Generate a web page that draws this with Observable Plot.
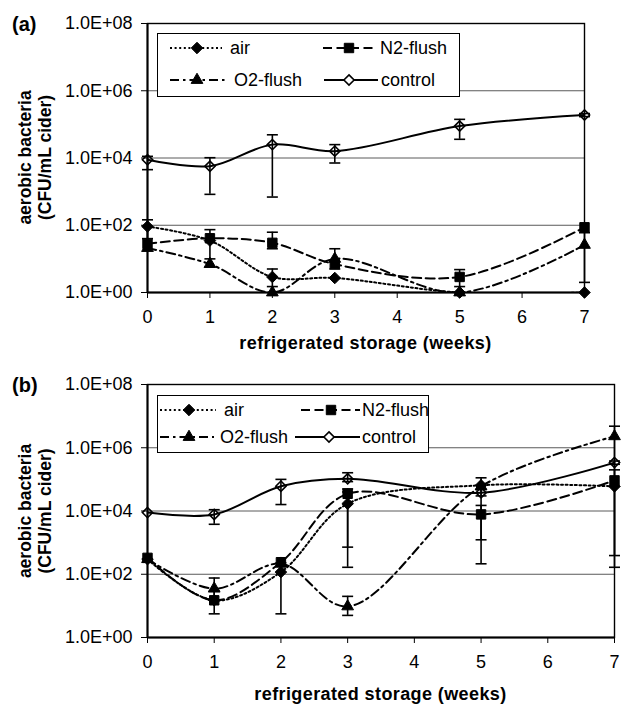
<!DOCTYPE html>
<html><head><meta charset="utf-8">
<script src="https://cdn.jsdelivr.net/npm/d3@7"></script>
<script src="https://cdn.jsdelivr.net/npm/@observablehq/plot@0.6"></script>
<style>
html,body{margin:0;padding:0;background:#fff;overflow:hidden;}
#root{position:relative;width:621px;height:704px;font-family:"Liberation Sans",Arial,sans-serif;}
#root svg{position:absolute;left:0;}
</style></head><body><div id="root"></div>
<script>
// ---------- data ----------
const weeks = [0, 1, 2, 3, 5, 7];
const seriesNames = ["air", "N2-flush", "O2-flush", "control"];
const xTicks = [0, 1, 2, 3, 4, 5, 6, 7];
const yTicks = [1, 1e2, 1e4, 1e6, 1e8];
const xTitle = "refrigerated storage (weeks)";
const yTitle1 = "aerobic bacteria";
const yTitle2 = "(CFU/mL cider)";
const panelLabels = ["(a)", "(b)"];

// panel (a)
const aAir       = [92, 35, 2.9, 2.7, 1, 1];
const aAirLo     = [40, null, 1.5, null, null, null];
const aAirHi     = [145, null, 5, null, null, null];
const aN2        = [28, 41, 30, 7, 2.9, 87];
const aN2Lo      = [null, 10, 20, null, 1.5, null];
const aN2Hi      = [null, 74, 62, null, 4.8, null];
const aO2        = [21, 7, 1, 10, 1, 26];
const aO2Lo      = [null, null, null, 5, null, 2];
const aO2Hi      = [null, null, null, 20, null, 60];
const aControl   = [8900, 5700, 25000, 16000, 89000, 190000];
const aControlLo = [4500, 830, 690, 7100, 36000, 170000];
const aControlHi = [11200, 10200, 49000, 25000, 141000, 210000];

// panel (b)
const bAir       = [300, 15, 117, 17000, 65000, 60000];
const bAirLo     = [null, null, 5.6, 166, null, null];
const bAirHi     = [null, null, 230, 40000, null, null];
const bN2        = [330, 15, 240, 35000, 7800, 93000];
const bN2Lo      = [null, 5.6, null, 720, 214, 390];
const bN2Hi      = [null, 30, null, 50000, 15000, 200000];
const bO2        = [300, 35, 215, 9.6, 60000, 2300000];
const bO2Lo      = [null, 15, null, 5, 1230, 166];
const bO2Hi      = [null, 76, null, 20, 112000, 4800000];
const bControl   = [8900, 7800, 61000, 105000, 38000, 340000];
const bControlLo = [null, 3800, 16000, 85000, 30000, 300000];
const bControlHi = [null, 11000, 100000, 162000, 48000, 380000];

// ---------- styles ----------
const FONT = "Liberation Sans, Arial, sans-serif";
const styles = {
  "air":      {dash: "2,2.6", symbol: "diamond2", fill: "black", r: 5.2},
  "N2-flush": {dash: "9,4.5", symbol: "square2",  fill: "black", r: 6},
  "O2-flush": {dash: "9,4,2.5,4", symbol: "triangle2", fill: "black", r: 5.6},
  "control":  {dash: null, symbol: "diamond2", fill: "none", r: 4.6}
};
const d3Sym = {diamond2: d3.symbolDiamond2, square2: d3.symbolSquare2, triangle2: d3.symbolTriangle2};
const cap = {draw(ctx) { ctx.moveTo(-5.5, 0); ctx.lineTo(5.5, 0); }};
const fmt = d => "1.0E+" + String(Math.round(Math.log10(d))).padStart(2, "0");

function buildRows(sets) {
  const rows = [];
  sets.forEach(([name, vals, lo, hi]) => {
    weeks.forEach((w, i) => rows.push({series: name, week: w, value: vals[i], lo: lo[i], hi: hi[i]}));
  });
  return rows;
}

const rowsA = buildRows([
  ["air", aAir, aAirLo, aAirHi],
  ["N2-flush", aN2, aN2Lo, aN2Hi],
  ["O2-flush", aO2, aO2Lo, aO2Hi],
  ["control", aControl, aControlLo, aControlHi]
]);
const rowsB = buildRows([
  ["air", bAir, bAirLo, bAirHi],
  ["N2-flush", bN2, bN2Lo, bN2Hi],
  ["O2-flush", bO2, bO2Lo, bO2Hi],
  ["control", bControl, bControlLo, bControlHi]
]);

function panel(rows, o) {
  const errs = rows.filter(d => d.lo != null && d.hi != null);
  const marks = [
    Plot.gridY(yTicks.slice(1, -1), {stroke: "#5a5a5a", strokeOpacity: 1, strokeWidth: 1}),
    Plot.axisY({ticks: yTicks, tickFormat: fmt, tickSize: 6, tickPadding: 9, label: null, fontSize: 18, stroke: "black"}),
    Plot.axisX({ticks: xTicks, tickFormat: d => String(d), tickSize: 6, tickPadding: 12, label: null, fontSize: 18})
  ];
  seriesNames.forEach(s => {
    const st = styles[s];
    marks.push(Plot.line(rows.filter(d => d.series === s), {
      x: "week", y: "value", curve: "catmull-rom", stroke: "black", strokeWidth: 2,
      strokeDasharray: st.dash, clip: true
    }));
  });
  marks.push(
    Plot.ruleX(errs, {x: "week", y1: "lo", y2: "hi", stroke: "black", strokeWidth: 1.6}),
    Plot.dot(errs, {x: "week", y: "lo", symbol: cap, stroke: "black", strokeWidth: 1.6}),
    Plot.dot(errs, {x: "week", y: "hi", symbol: cap, stroke: "black", strokeWidth: 1.6})
  );
  seriesNames.forEach(s => {
    const st = styles[s];
    marks.push(Plot.dot(rows.filter(d => d.series === s), {
      x: "week", y: "value", symbol: st.symbol, r: st.r,
      fill: st.fill, stroke: "black", strokeWidth: st.fill === "none" ? 1.6 : 1
    }));
  });
  marks.push(
    Plot.frame({stroke: "black", strokeWidth: 1.4}),
    Plot.ruleX([0], {stroke: "black", strokeWidth: 2}),
    Plot.ruleY([1], {stroke: "black", strokeWidth: 2})
  );
  const svg = Plot.plot({
    width: 621, height: o.height,
    marginTop: o.mt, marginBottom: o.mb, marginLeft: 147, marginRight: o.mr,
    x: {domain: [0, 7]},
    y: {type: "log", domain: [1, 1e8]},
    style: {fontFamily: FONT, fontSize: "18px", color: "black", background: "transparent", overflow: "visible"},
    marks
  });
  svg.style.top = o.top + "px";
  return svg;
}

const root = document.getElementById("root");
root.appendChild(panel(rowsA, {top: 0, height: 360, mt: 23, mb: 68, mr: 37}));
root.appendChild(panel(rowsB, {top: 360, height: 344, mt: 24, mb: 67, mr: 7}));

// ---------- overlay: labels, titles, legends ----------
const ov = d3.select(root).append("svg")
  .attr("width", 621).attr("height", 704)
  .style("top", "0px").style("font-family", FONT);

const panelsMeta = [
  {label: panelLabels[0], labelY: 31, yc: 157.5, xc: 365.5, xtY: 349,
   box: [157.5, 33.5, 302, 63], rowY: [48, 80],
   ent: [[170, 222, 197, 230], [323, 376, 349, 380], [170, 228, 197, 234], [324, 378, 349, 381]]},
  {label: panelLabels[1], labelY: 392, yc: 511, xc: 380.5, xtY: 700,
   box: [157.5, 395.5, 271, 57], rowY: [410, 437],
   ent: [[160, 216, 189, 224], [301, 360, 331, 362], [160, 214, 189, 220], [295, 360, 329, 362]]}
];

panelsMeta.forEach(p => {
  ov.append("text").attr("x", 12).attr("y", p.labelY)
    .attr("font-size", 20).attr("font-weight", "bold").text(p.label);
  const g = ov.append("g").attr("transform", `translate(0,${p.yc}) rotate(-90)`);
  g.append("text").attr("x", 0).attr("y", 31).attr("text-anchor", "middle")
    .attr("font-size", 17.5).attr("font-weight", "bold").text(yTitle1);
  g.append("text").attr("x", 0).attr("y", 51).attr("text-anchor", "middle")
    .attr("font-size", 17.5).attr("font-weight", "bold").text(yTitle2);
  ov.append("text").attr("x", p.xc).attr("y", p.xtY).attr("text-anchor", "middle")
    .attr("font-size", 18).attr("font-weight", "bold").attr("letter-spacing", 0.4).text(xTitle);

  const [bx, by, bw, bh] = p.box;
  ov.append("rect").attr("x", bx).attr("y", by).attr("width", bw).attr("height", bh)
    .attr("fill", "white").attr("stroke", "black").attr("stroke-width", 1);
  seriesNames.forEach((s, i) => {
    const st = styles[s];
    const [x1, x2, mx, tx] = p.ent[i];
    const y = p.rowY[i < 2 ? 0 : 1];
    ov.append("line").attr("x1", x1).attr("x2", x2).attr("y1", y).attr("y2", y)
      .attr("stroke", "black").attr("stroke-width", 2)
      .attr("stroke-dasharray", st.dash);
    ov.append("path")
      .attr("d", d3.symbol().type(d3Sym[st.symbol]).size(Math.PI * st.r * st.r)())
      .attr("transform", `translate(${mx},${y})`)
      .attr("fill", st.fill === "none" ? "white" : "black")
      .attr("stroke", "black").attr("stroke-width", st.fill === "none" ? 1.6 : 1);
    ov.append("text").attr("x", tx).attr("y", y).attr("dy", "0.36em")
      .attr("font-size", 18).text(s);
  });
});
</script></body></html>
